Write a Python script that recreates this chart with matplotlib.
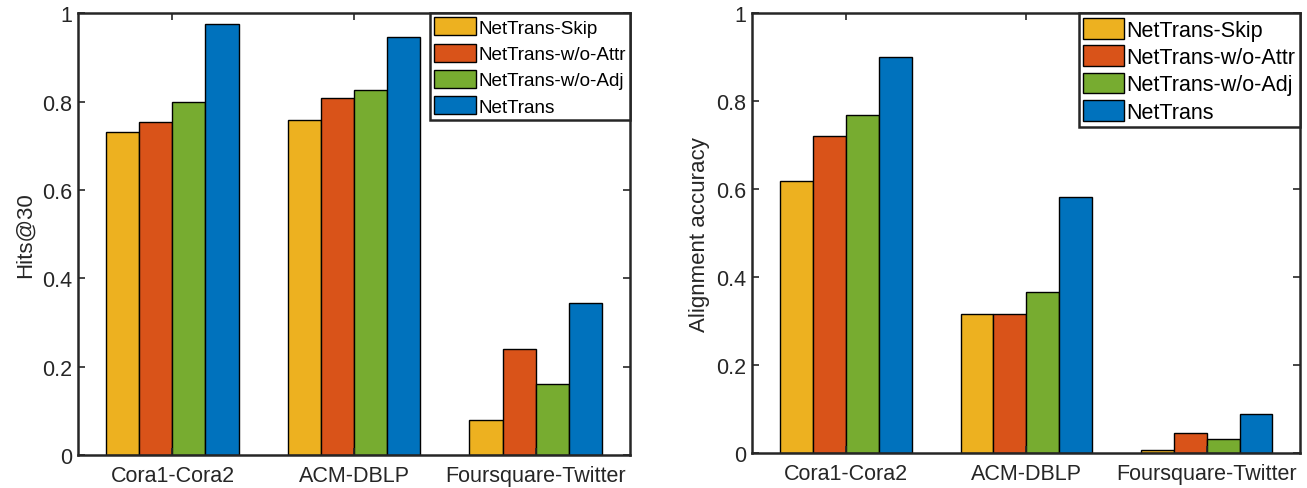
import numpy as np
import matplotlib
matplotlib.use('Agg')
import matplotlib.pyplot as plt

plt.rcParams['font.family'] = ['Liberation Sans', 'DejaVu Sans']

# данные
datasets = ['Cora1-Cora2', 'ACM-DBLP', 'Foursquare-Twitter']
methods = ['NetTrans-Skip', 'NetTrans-w/o-Attr', 'NetTrans-w/o-Adj', 'NetTrans']
colors = ['#EDB120', '#D95319', '#77AC30', '#0072BD']

hits30 = [
    [0.730, 0.759, 0.080],   # NetTrans-Skip
    [0.754, 0.807, 0.239],   # NetTrans-w/o-Attr
    [0.799, 0.827, 0.161],   # NetTrans-w/o-Adj
    [0.975, 0.945, 0.345],   # NetTrans
]
accuracy = [
    [0.619, 0.317, 0.007],
    [0.721, 0.317, 0.045],
    [0.769, 0.366, 0.032],
    [0.900, 0.582, 0.089],
]

y_ticks = [0, 0.2, 0.4, 0.6, 0.8, 1.0]
y_tick_labels = ['0', '0.2', '0.4', '0.6', '0.8', '1']

text_color = '#262626'


def draw(ax, values, ylabel, legend_size, handle_len, spacing):
    x = np.arange(1, len(datasets) + 1)
    w = 0.182
    for i, (m, c) in enumerate(zip(methods, colors)):
        ax.bar(x + (i - 1.5) * w, values[i], width=w, color=c,
               edgecolor='black', linewidth=1.0, label=m)
    ax.set_xlim(0.48, 3.52)
    ax.set_ylim(0, 1)
    ax.set_xticks(x)
    ax.set_xticklabels(datasets, fontsize=15.5, color=text_color)
    ax.set_yticks(y_ticks)
    ax.set_yticklabels(y_tick_labels, fontsize=15.5, color=text_color)
    ax.set_ylabel(ylabel, fontsize=16, color=text_color, labelpad=5)
    ax.tick_params(direction='in', length=5, width=1.2, top=True, right=True,
                   colors='#262626', labelcolor=text_color)
    ax.tick_params(axis='x', pad=7)
    ax.tick_params(axis='y', pad=4)
    for s in ax.spines.values():
        s.set_linewidth(1.8)
        s.set_color('#262626')
    leg = ax.legend(loc='upper right', fontsize=legend_size, frameon=True,
                    fancybox=False, borderaxespad=0, borderpad=0.22,
                    labelspacing=spacing, handlelength=handle_len,
                    handleheight=1.1, handletextpad=0.12)
    leg.get_frame().set_edgecolor('#262626')
    leg.get_frame().set_linewidth(1.8)
    leg.get_frame().set_alpha(1)


fig = plt.figure(figsize=(13.07, 4.89), dpi=100)
ax1 = fig.add_axes([0.0597, 0.0675, 0.4223, 0.9035])
ax2 = fig.add_axes([0.5755, 0.0715, 0.4195, 0.8995])

draw(ax1, hits30, 'Hits@30', 13.6, 2.2, 0.36)
draw(ax2, accuracy, 'Alignment accuracy', 15.5, 1.9, 0.22)

plt.savefig('out.png', dpi=100)
